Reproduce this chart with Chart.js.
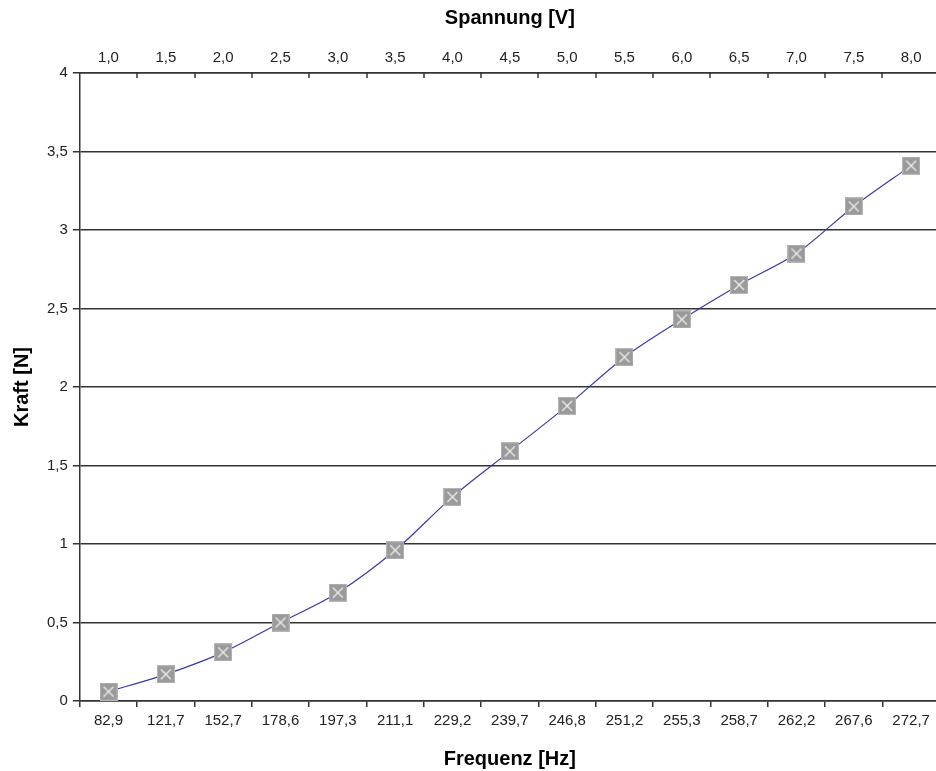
<!DOCTYPE html>
<html>
<head>
<meta charset="utf-8">
<script src="https://cdn.jsdelivr.net/npm/chart.js@4/dist/chart.umd.min.js"></script>
<style>
html,body{margin:0;padding:0;background:#fff;overflow:hidden;}
#wrap{width:950px;height:771px;position:relative;}
</style>
</head>
<body>
<div id="wrap"><canvas id="c"></canvas></div>
<script>
const frequencies = ['82,9','121,7','152,7','178,6','197,3','211,1','229,2','239,7','246,8','251,2','255,3','258,7','262,2','267,6','272,7'];
const voltages = ['1,0','1,5','2,0','2,5','3,0','3,5','4,0','4,5','5,0','5,5','6,0','6,5','7,0','7,5','8,0'];
const force = [0.06, 0.17, 0.31, 0.50, 0.69, 0.96, 1.30, 1.59, 1.88, 2.19, 2.43, 2.65, 2.85, 3.15, 3.41];

function makeMarker(){
  const s = 18;
  const cv = document.createElement('canvas');
  cv.width = s; cv.height = s;
  const g = cv.getContext('2d');
  g.fillStyle = '#9a9a9a';
  g.fillRect(0,0,s,s);
  g.strokeStyle = '#b5b5b5';
  g.lineWidth = 1;
  g.strokeRect(0.5,0.5,s-1,s-1);
  g.strokeStyle = '#eeeeee';
  g.lineWidth = 1.3;
  g.beginPath();
  g.moveTo(4,4); g.lineTo(s-4,s-4);
  g.moveTo(s-4,4); g.lineTo(4,s-4);
  g.stroke();
  return cv;
}
const marker = makeMarker();

const font = {family:'"Liberation Sans", Arial, sans-serif', size:15};
const titleFont = {family:'"Liberation Sans", Arial, sans-serif', size:20, weight:'bold'};

const topTicks = {
  id:'topTicks',
  afterDraw(chart){
    const s = chart.scales.x2, ctx = chart.ctx, top = chart.chartArea.top;
    ctx.save();
    ctx.strokeStyle = '#333';
    ctx.lineWidth = 1.5;
    for(let i=1;i<voltages.length;i++){
      const x = Math.round((s.getPixelForValue(i-1)+s.getPixelForValue(i))/2);
      ctx.beginPath(); ctx.moveTo(x, top); ctx.lineTo(x, top+5); ctx.stroke();
    }
    ctx.restore();
  }
};

new Chart(document.getElementById('c'), {
  type:'line',
  data:{
    labels: frequencies,
    datasets:[{
      data: force,
      borderColor:'#3a3aa8',
      borderWidth:1.2,
      tension:0.3,
      pointStyle: marker,
      pointRadius:9,
      pointHoverRadius:9,
      xAxisID:'x',
      yAxisID:'y'
    }]
  },
  options:{
    responsive:true,
    maintainAspectRatio:false,
    animation:false,
    layout:{padding:{left:10,right:6,top:6,bottom:0}},
    plugins:{legend:{display:false},tooltip:{enabled:false}},
    scales:{
      x:{
        type:'category',
        position:'bottom',
        offset:true,
        grid:{offset:true, drawOnChartArea:false, drawTicks:true, tickLength:6, color:'#333', lineWidth:1.5},
        border:{color:'#333', width:1.5},
        ticks:{font, color:'#222', padding:5, maxRotation:0, autoSkip:false},
        title:{display:true, text:'Frequenz [Hz]', font:titleFont, color:'#000', padding:{top:12,bottom:0}}
      },
      x2:{
        type:'category',
        position:'top',
        labels: voltages,
        offset:true,
        grid:{offset:true, drawOnChartArea:false, drawTicks:false},
        border:{color:'#333', width:1.5},
        ticks:{font, color:'#222', padding:6, maxRotation:0, autoSkip:false},
        title:{display:true, text:'Spannung [V]', font:titleFont, color:'#000', padding:{top:0,bottom:13}}
      },
      y:{
        min:0, max:4,
        ticks:{stepSize:0.5, font, color:'#222', padding:5,
          callback:v=>String(v).replace('.',',')},
        grid:{color:'#333', lineWidth:1.5, tickLength:7},
        border:{color:'#333', width:1.5},
        title:{display:true, text:'Kraft [N]', font:titleFont, color:'#000', padding:{top:0,bottom:8}}
      }
    }
  },
  plugins:[topTicks]
});
</script>
</body>
</html>
